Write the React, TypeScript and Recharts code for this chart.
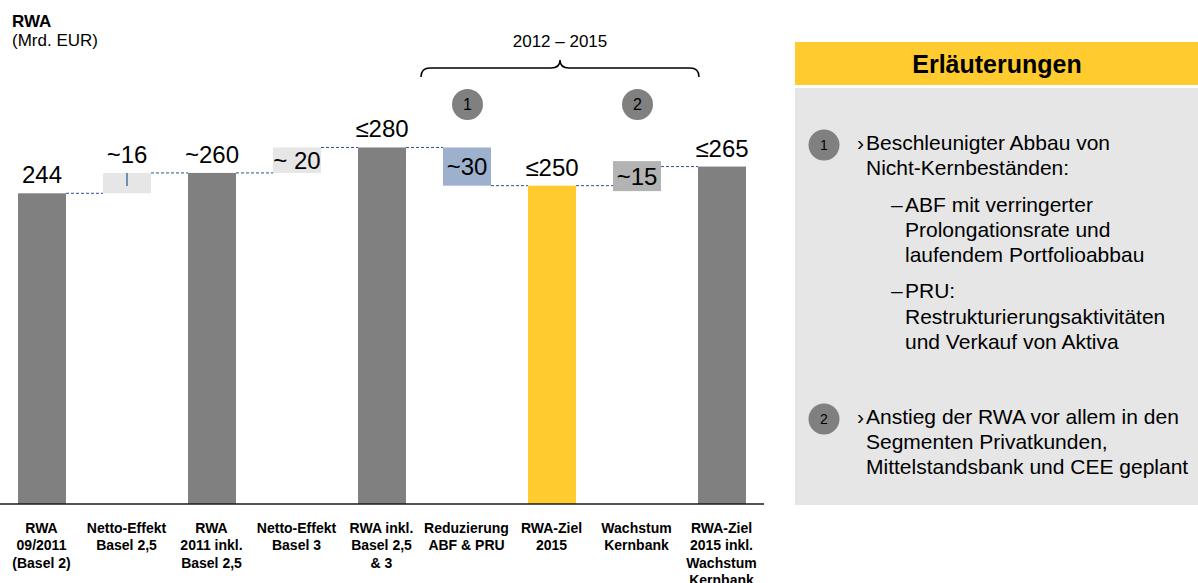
import React from "react";
import { Bar, BarChart, XAxis, YAxis } from "recharts";

// Wasserfall RWA 09/2011 -> Ziel 2015 (Mrd. EUR)
const CATEGORIES = [
  "RWA\n09/2011\n(Basel 2)",
  "Netto-Effekt\nBasel 2,5",
  "RWA\n2011 inkl.\nBasel 2,5",
  "Netto-Effekt\nBasel 3",
  "RWA inkl.\nBasel 2,5\n& 3",
  "Reduzierung\nABF & PRU",
  "RWA-Ziel\n2015",
  "Wachstum\nKernbank",
  "RWA-Ziel\n2015 inkl.\nWachstum\nKernbank",
];
const STARTS = [0, 244, 0, 260, 0, 280, 0, 250, 0];
const ENDS = [244, 260, 260, 280, 280, 250, 250, 265, 265];
const VALUE_LABELS = ["244", "~16", "~260", "~ 20", "≤280", "~30", "≤250", "~15", "≤265"];
const LABEL_INSIDE = [false, false, false, true, false, true, false, true, false];

const BAR_COLORS = ["#808080", "#E6E6E6", "#808080", "#E6E6E6", "#808080", "#9DB0CD", "#FFCB2F", "#B3B3B3", "#808080"];

const FONT = "'Liberation Sans', Arial, Helvetica, sans-serif";
const BAND = 85;
const BAR = 48;
const GAP = BAND - BAR;

const data = CATEGORIES.map((name, i) => ({
  name,
  range: [Math.min(STARTS[i], ENDS[i]), Math.max(STARTS[i], ENDS[i])],
}));

function StepShape(props: any) {
  const { x, y, width, height, index } = props;
  const top = Math.max(STARTS[index], ENDS[index]);
  const levelY = ENDS[index] === top ? y : y + height;
  const inside = LABEL_INSIDE[index];
  const cy = y + height / 2;
  // kleine Floats mit Label innen etwas höher zeichnen
  const boxH = inside && height < 22 ? 30 : height;
  const boxY = cy - boxH / 2;
  const isFloat = STARTS[index] !== 0;
  return (
    <g>
      <rect x={x} y={boxY} width={width} height={boxH} fill={BAR_COLORS[index]} />
      {isFloat && !inside && (
        <line x1={x + width / 2} x2={x + width / 2} y1={y} y2={y + 13} stroke="#4A6FA5" strokeWidth={1.5} />
      )}
      {index < CATEGORIES.length - 1 && (
        <line
          x1={x + width}
          x2={x + width + GAP}
          y1={levelY}
          y2={levelY}
          stroke="#2F4F8F"
          strokeWidth={1}
          strokeDasharray="3 2"
        />
      )}
      <text
        x={x + width / 2}
        y={inside ? cy + 8.5 : y - 10}
        textAnchor="middle"
        fontSize={24}
        fontFamily={FONT}
        fill="#000"
      >
        {VALUE_LABELS[index]}
      </text>
    </g>
  );
}

function CategoryTick(props: any) {
  const { x, y, payload } = props;
  const lines = String(payload.value).split("\n");
  return (
    <g>
      {lines.map((l, i) => (
        <text
          key={i}
          x={x}
          y={y + 29 + i * 17.3}
          textAnchor="middle"
          fontSize={14}
          fontWeight={700}
          fontFamily={FONT}
          fill="#000"
        >
          {l}
        </text>
      ))}
    </g>
  );
}

const PANEL_LINES: { x: number; y: number; t: string }[] = [
  { x: 857, y: 150, t: "›" },
  { x: 866, y: 150, t: "Beschleunigter Abbau von" },
  { x: 866, y: 175, t: "Nicht-Kernbeständen:" },
  { x: 891, y: 212, t: "–" },
  { x: 905, y: 212, t: "ABF mit verringerter" },
  { x: 905, y: 237, t: "Prolongationsrate und" },
  { x: 905, y: 262, t: "laufendem Portfolioabbau" },
  { x: 891, y: 298, t: "–" },
  { x: 905, y: 298, t: "PRU:" },
  { x: 905, y: 324, t: "Restrukturierungsaktivitäten" },
  { x: 905, y: 349, t: "und Verkauf von Aktiva" },
  { x: 857, y: 424, t: "›" },
  { x: 866, y: 424, t: "Anstieg der RWA vor allem in den" },
  { x: 866, y: 449, t: "Segmenten Privatkunden," },
  { x: 866, y: 474, t: "Mittelstandsbank und CEE geplant" },
];

function Badge({ cx, cy, r, label, size }: { cx: number; cy: number; r: number; label: string; size: number }) {
  return (
    <g>
      <circle cx={cx} cy={cy} r={r} fill="#808080" />
      <text x={cx} y={cy + size * 0.36} textAnchor="middle" fontSize={size} fontFamily={FONT} fill="#000">
        {label}
      </text>
    </g>
  );
}

export default function App() {
  return (
    <div style={{ position: "absolute", left: 0, top: 0, width: 1198, height: 583, background: "#fff", overflow: "hidden" }}>
      <div style={{ position: "absolute", left: -1, top: 0 }}>
        <BarChart
          width={766}
          height={583}
          data={data}
          margin={{ top: 122, right: 1, left: 0, bottom: 0 }}
          barSize={BAR}
        >
          <YAxis hide domain={[0, 300]} />
          <XAxis
            dataKey="name"
            height={79}
            interval={0}
            tickLine={false}
            tickSize={0}
            tickMargin={0}
            axisLine={{ stroke: "#1a1a1a", strokeWidth: 1.5 }}
            tick={<CategoryTick />}
          />
          <Bar dataKey="range" isAnimationActive={false} shape={<StepShape />} />
        </BarChart>
      </div>

      <svg width={1198} height={583} style={{ position: "absolute", left: 0, top: 0, pointerEvents: "none" }}>
        <text x={12} y={27} fontSize={17} fontWeight={700} fontFamily={FONT}>RWA</text>
        <text x={12} y={46} fontSize={17} fontFamily={FONT}>(Mrd. EUR)</text>

        <text x={560} y={47} textAnchor="middle" fontSize={17} fontFamily={FONT}>2012 – 2015</text>
        <path
          d="M421,77 Q421,68 430,68 L551,68 Q560,68 560,60 Q560,68 569,68 L690,68 Q699,68 699,77"
          fill="none"
          stroke="#000"
          strokeWidth={1.5}
        />
        <Badge cx={467.5} cy={104.5} r={15.5} label="1" size={16} />
        <Badge cx={637.5} cy={104.5} r={15.5} label="2" size={16} />

        <rect x={795} y={42} width={403} height={43} fill="#FFCB2F" />
        <text x={997} y={73} textAnchor="middle" fontSize={25} fontWeight={700} fontFamily={FONT}>Erläuterungen</text>
        <rect x={795} y={88} width={403} height={417} fill="#E6E6E6" />
        <Badge cx={824} cy={145} r={15.5} label="1" size={14} />
        <Badge cx={824} cy={419} r={15.5} label="2" size={14} />
        {PANEL_LINES.map((l, i) => (
          <text key={i} x={l.x} y={l.y} fontSize={21} fontFamily={FONT} fill="#000">
            {l.t}
          </text>
        ))}
      </svg>
    </div>
  );
}
